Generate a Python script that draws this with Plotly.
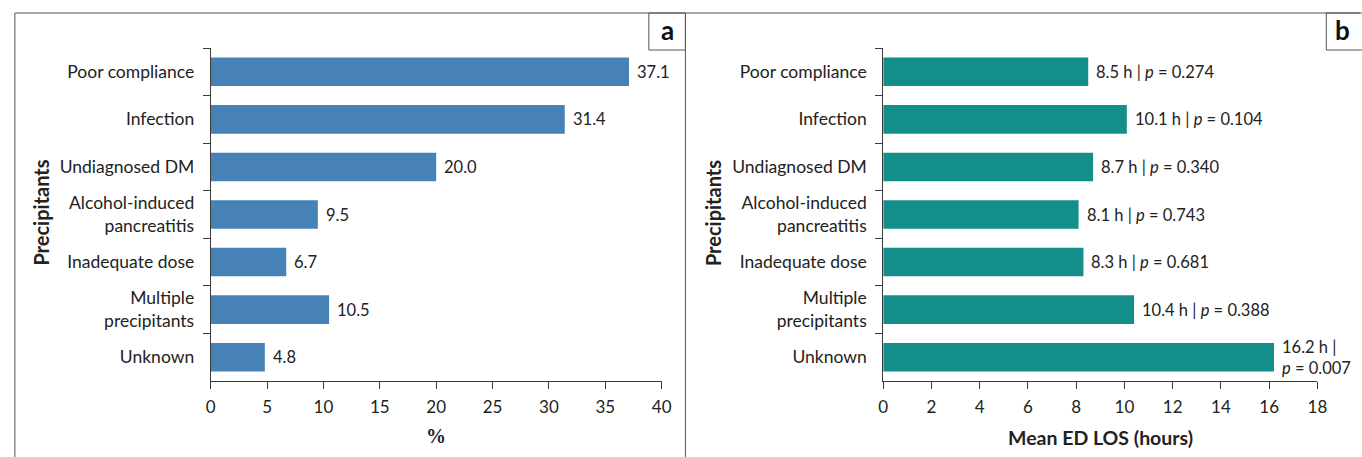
import plotly.graph_objects as go

# Precipitants of DKA: share of cases (%) and mean ED length of stay (hours)
categories = ["Poor compliance", "Infection", "Undiagnosed DM",
              "Alcohol-induced<br>pancreatitis", "Inadequate dose",
              "Multiple<br>precipitants", "Unknown"]
percent = [37.1, 31.4, 20.0, 9.5, 6.7, 10.5, 4.8]
los_hours = [8.5, 10.1, 8.7, 8.1, 8.3, 10.4, 16.2]
p_values = ["0.274", "0.104", "0.340", "0.743", "0.681", "0.388", "0.007"]

W, H = 1362, 457
FONT = "Lato, 'Open Sans', sans-serif"
SERIF = "'Liberation Serif', 'Times New Roman', serif"
BLUE = "#4682b6"
TEAL = "#138e8b"
AXIS = "#3a3a3a"
TEXT = "#222"


def px(x):
    return x / W


def py(y):
    return 1 - y / H


fig = go.Figure()
fig.add_trace(go.Bar(x=percent, y=categories, orientation="h",
                     marker=dict(color=BLUE, line_width=0),
                     xaxis="x", yaxis="y", width=0.6, hoverinfo="x+y"))
fig.add_trace(go.Bar(x=los_hours, y=categories, orientation="h",
                     marker=dict(color=TEAL, line_width=0),
                     xaxis="x2", yaxis="y2", width=0.6, hoverinfo="x+y"))

ydom = [py(381), py(48)]
axis_common = dict(showline=True, linecolor=AXIS, linewidth=1, ticks="outside",
                   ticklen=7, tickcolor=AXIS, showgrid=False, zeroline=False,
                   tickfont=dict(family=FONT, size=17, color=TEXT))
xaxis_common = dict(axis_common, ticklabelstandoff=4)
yaxis_common = dict(axis_common, categoryorder="array", categoryarray=categories,
                    autorange="reversed", tickson="boundaries", ticklabelstandoff=12,
                    tickfont=dict(family=FONT, size=17.5, color=TEXT))

fig.update_layout(
    width=W, height=H, margin=dict(l=0, r=0, t=0, b=0),
    paper_bgcolor="white", plot_bgcolor="white", showlegend=False, bargap=0.4,
    xaxis=dict(xaxis_common, domain=[px(208), px(664)], range=[0, 40], dtick=5, anchor="y"),
    yaxis=dict(yaxis_common, domain=ydom, anchor="x"),
    xaxis2=dict(xaxis_common, domain=[px(888), px(1327)], range=[0, 18], dtick=2, anchor="y2"),
    yaxis2=dict(yaxis_common, domain=ydom, anchor="x2"),
)

# value labels at the bar ends
label_font = dict(family=FONT, size=16.5, color=TEXT)
for cat, v in zip(categories, percent):
    fig.add_annotation(x=v, y=cat, xref="x", yref="y", text=f"{v:.1f}",
                       showarrow=False, xanchor="left", yanchor="middle", xshift=6,
                       font=label_font)
for cat, v, p in zip(categories, los_hours, p_values):
    pitalic = f"<span style='font-family:{SERIF}'><i>p</i></span>"
    sep = "<br>" if v > 15 else " "
    fig.add_annotation(x=v, y=cat, xref="x2", yref="y2",
                       text=f"{v:.1f} h |{sep}{pitalic} = {p}",
                       showarrow=False, xanchor="left", yanchor="middle", xshift=6,
                       align="left", font=label_font)


def paper_text(x, y, text, font, angle=0):
    fig.add_annotation(x=px(x), y=py(y), xref="paper", yref="paper", text=text,
                       textangle=angle, showarrow=False, xanchor="center",
                       yanchor="middle", font=font)


# axis titles
title_font = dict(family=FONT, size=20, color=TEXT)
paper_text(36, 213, "<b>Precipitants</b>", title_font, -90)
paper_text(716, 213, "<b>Precipitants</b>", title_font, -90)
paper_text(436, 436, "<b>%</b>", dict(family=SERIF, size=20, color=TEXT))
paper_text(1108, 437, "<b>Mean ED LOS (hours)</b>", dict(family=FONT, size=19.5, color=TEXT))

# panel frames and letter boxes
frame = dict(color="#555", width=1)
fig.add_shape(type="line", xref="paper", yref="paper", x0=px(10), x1=px(1370),
              y0=py(13), y1=py(13), line=frame)
fig.add_shape(type="line", xref="paper", yref="paper", x0=px(10), x1=px(10),
              y0=py(13), y1=py(470), line=frame)
fig.add_shape(type="line", xref="paper", yref="paper", x0=px(688), x1=px(688),
              y0=py(13), y1=py(470), line=frame)
fig.add_shape(type="rect", xref="paper", yref="paper", x0=px(651), x1=px(688),
              y0=py(50), y1=py(13), line=frame, fillcolor="white", layer="below")
fig.add_shape(type="rect", xref="paper", yref="paper", x0=px(1336), x1=px(1375),
              y0=py(50), y1=py(13), line=frame, fillcolor="white", layer="below")
letter_font = dict(family=FONT, size=26, color="#111")
paper_text(669.5, 30, "<b>a</b>", letter_font)
paper_text(1352, 30, "<b>b</b>", letter_font)

fig.write_html("out.html")
